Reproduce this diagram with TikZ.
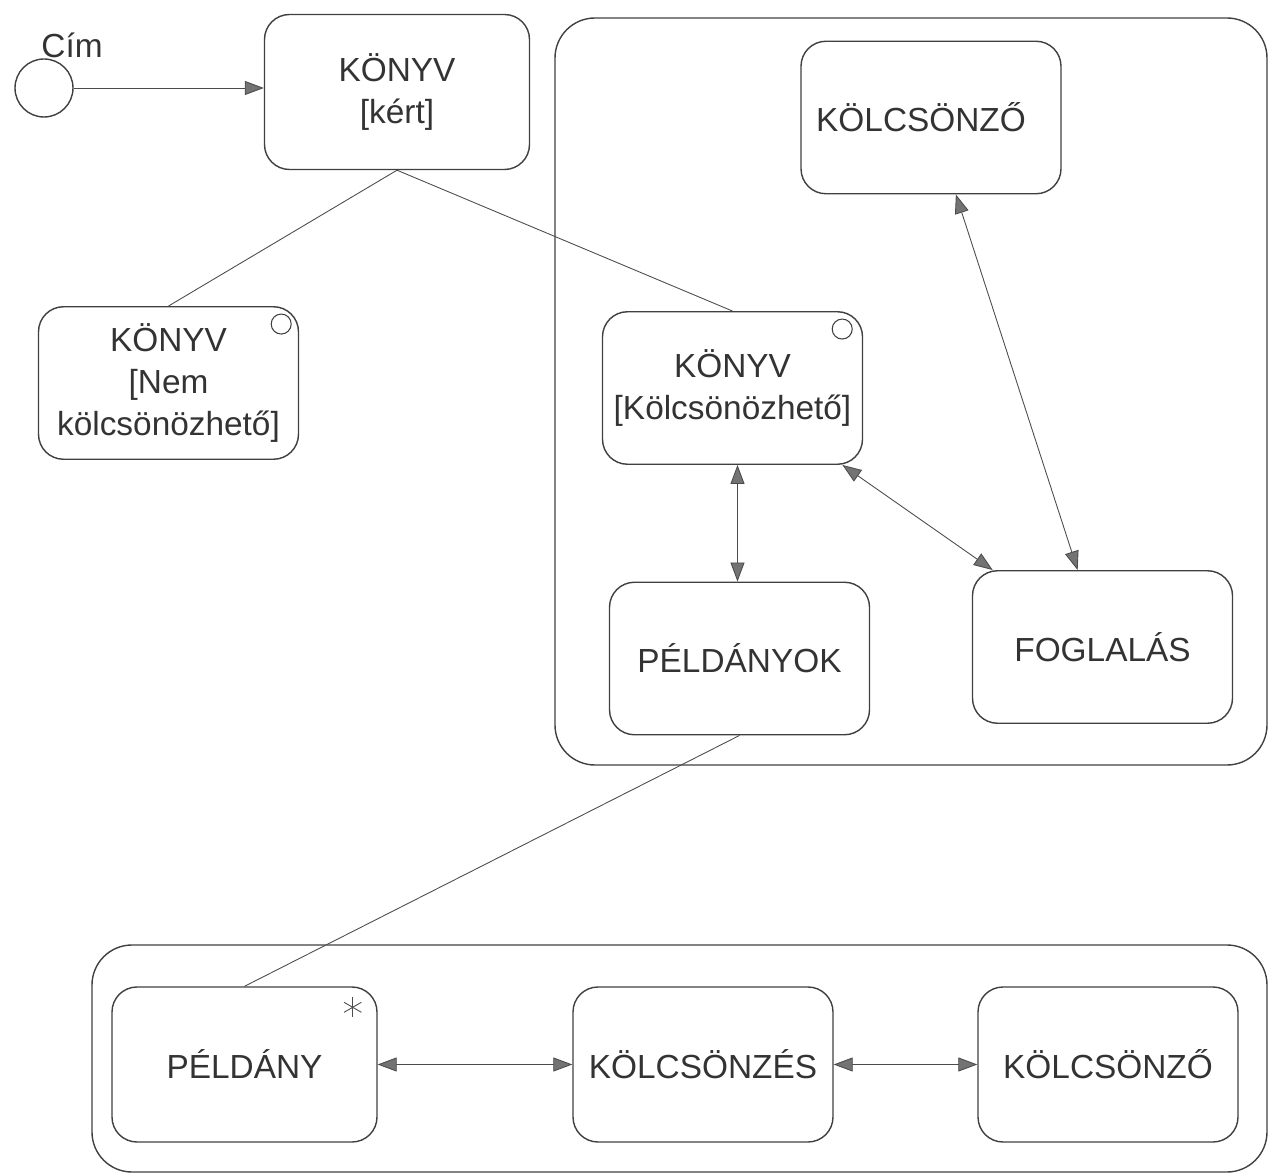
\documentclass[tikz,border=0pt]{standalone}
\usepackage{fontspec}
\setmainfont{Liberation Sans}
\usetikzlibrary{shapes,arrows.meta}

\begin{document}
\begin{tikzpicture}[
    every node/.style={text=black!80, font=\fontsize{19}{24}\selectfont},
    StateShape/.style={rectangle, rounded corners=0.5cm, draw=black!75,
        line width=0.8pt, minimum width=5.2cm, minimum height=3.05cm,
        align=center},
    ContainerShape/.style={rounded corners=0.8cm, draw=black!75, line width=0.8pt},
    StartShape/.style={circle, draw=black!75, line width=0.8pt, minimum size=1.16cm,
        inner sep=0pt},
    MarkShape/.style={circle, draw=black!75, line width=0.6pt, minimum size=0.4cm,
        inner sep=0pt},
    link/.style={draw=black!70, line width=0.5pt},
    assoc/.style={link, {Triangle[length=0.38cm,width=0.28cm,fill=black!55]}-{Triangle[length=0.38cm,width=0.28cm,fill=black!55]}},
    flow/.style={link, -{Triangle[length=0.38cm,width=0.28cm,fill=black!55]}}
]
\useasboundingbox (0,0) rectangle (25.4,-23.48);

% boundaries of the two groups
\draw[ContainerShape] (11.1,-0.36) rectangle (25.34,-15.3);
\draw[ContainerShape] (1.84,-18.9) rectangle (25.34,-23.44);

\node (start) [StartShape] at (0.88,-1.76) {};
\node (startlabel) at (1.44,-0.9) {Cím};

\node (kert) [StateShape, minimum width=5.3cm, minimum height=3.1cm] at (7.94,-1.84)
    {KÖNYV\\{[kért]}};
\node (nem) [StateShape] at (3.37,-7.66) {KÖNYV\\{[Nem}\\kölcsönözhető]};
\node (konyvB) [StateShape] at (14.65,-7.76) {KÖNYV\\{[Kölcsönözhető]}};
\node (lenderA) [StateShape] at (18.62,-2.35) {KÖLCSÖNZŐ\hspace*{0.4cm}};
\node (peldanyok) [StateShape] at (14.79,-13.17) {PÉLDÁNYOK};
\node (foglalas) [StateShape] at (22.05,-12.94) {FOGLALÁS};

\node (peldany) [StateShape, minimum width=5.3cm, minimum height=3.1cm] at (4.89,-21.29)
    {PÉLDÁNY};
\node (kolcsonzes) [StateShape, minimum height=3.1cm] at (14.06,-21.29) {KÖLCSÖNZÉS};
\node (lenderB) [StateShape, minimum height=3.1cm] at (22.16,-21.29) {KÖLCSÖNZŐ};

% markers in the upper right corners
\node (nemmark) [MarkShape] at ([xshift=-0.36cm,yshift=-0.36cm]nem.north east) {};
\node (konyvBmark) [MarkShape] at ([xshift=-0.42cm,yshift=-0.36cm]konyvB.north east) {};
\coordinate (star) at ([xshift=-0.5cm,yshift=-0.42cm]peldany.north east);
\foreach \a in {90,30,-30}
    \draw[link] (star) ++(\a:0.2) -- ++(\a+180:0.4);

\draw[flow] (start.east) -- (start.east -| kert.west);
\draw[link] (kert.south) -- (nem.north);
\draw[link] (kert.south) -- (konyvB.north);
\draw[assoc] (lenderA) -- (foglalas);
\draw[assoc] (konyvB) -- (foglalas);
\draw[assoc] ([xshift=0.1cm]konyvB.south) -- ([xshift=0.1cm]konyvB.south |- peldanyok.north);
\draw[link] (peldanyok.south) -- (peldany.north);
\draw[assoc] (peldany.east) -- (kolcsonzes.west);
\draw[assoc] (kolcsonzes.east) -- (lenderB.west);
\end{tikzpicture}
\end{document}
